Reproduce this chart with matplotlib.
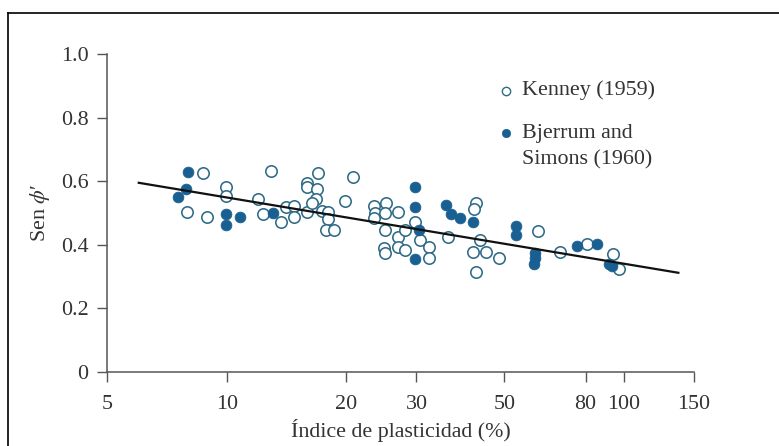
import numpy as np
import matplotlib
matplotlib.use("Agg")
from matplotlib import pyplot as plt
from matplotlib.lines import Line2D

# Kenney (1959) - open circles
kenney_pi = [8.69, 7.95, 8.91, 9.93, 9.93, 11.95, 12.35, 12.9, 13.7, 14.1, 14.8, 14.8,
             15.9, 15.9, 15.9, 17.0, 16.9, 16.8, 16.4, 17.4, 18.0, 18.0, 17.8, 18.6,
             19.8, 20.8,
             23.5, 25.1, 23.6, 25.0, 23.4, 25.0, 24.9, 25.0, 26.9, 26.9, 27.0, 28.1,
             28.1, 29.7, 30.6, 32.3, 32.3, 36.1, 42.5, 41.9, 43.4, 41.7, 44.9, 48.5,
             42.5, 60.6, 69.0, 80.5, 93.6, 97.2]
kenney_sin = [0.625, 0.504, 0.488, 0.581, 0.553, 0.544, 0.498, 0.633, 0.471, 0.520, 0.522, 0.488,
              0.504, 0.595, 0.583, 0.625, 0.575, 0.543, 0.530, 0.506, 0.504, 0.481, 0.447, 0.447,
              0.538, 0.612,
              0.523, 0.530, 0.499, 0.499, 0.483, 0.447, 0.389, 0.375, 0.504, 0.423, 0.394, 0.447,
              0.384, 0.473, 0.415, 0.394, 0.358, 0.424, 0.531, 0.512, 0.415, 0.378, 0.378, 0.358,
              0.315, 0.442, 0.376, 0.402, 0.370, 0.323]

# Bjerrum and Simons (1960) - filled circles
bjerrum_pi = [8.0, 7.9, 7.55, 9.93, 9.97, 10.8, 13.1, 29.8, 29.8, 30.4, 29.7, 35.6,
              36.6, 38.6, 41.6, 53.6, 53.6, 59.6, 59.6, 59.3, 76.0, 85.6, 91.5, 93.0]
bjerrum_sin = [0.629, 0.575, 0.550, 0.498, 0.462, 0.486, 0.499, 0.583, 0.520, 0.447, 0.355, 0.526,
               0.496, 0.484, 0.472, 0.459, 0.430, 0.373, 0.358, 0.340, 0.395, 0.403, 0.340, 0.332]

# trend line end points
trend_pi = [6.0, 137.0]
trend_sin = [0.595, 0.312]

x_ticks = [5, 10, 20, 30, 50, 80, 100, 150]
y_ticks = [0, 0.2, 0.4, 0.6, 0.8, 1.0]
y_ticklabels = ['0', '0.2', '0.4', '0.6', '0.8', '1.0']

blue_fill = '#1a5f92'
blue_edge = '#2f6b86'
axis_col = '#555555'
txt_col = '#333333'

plt.rcParams['font.family'] = ['Liberation Serif', 'DejaVu Serif']
plt.rcParams['mathtext.fontset'] = 'stix'
fs = 15.8

fig = plt.figure(figsize=(7.79, 4.46), dpi=100)
ax = fig.add_axes([107.3 / 779, 1 - 372 / 446, (694 - 107.3) / 779, (372 - 54) / 446])

ax.plot(kenney_pi, kenney_sin, 'o', ms=8.2, mfc='white', mec=blue_edge, mew=1.15, zorder=3)
ax.plot(bjerrum_pi, bjerrum_sin, 'o', ms=7.8, mfc=blue_fill, mec=blue_fill, mew=0.5, zorder=4)
ax.plot(trend_pi, trend_sin, '-', color='#111111', lw=1.6, zorder=5)

ax.set_xscale('log')
ax.set_xlim(5, 150)
ax.set_ylim(0, 1.0)
ax.set_xticks(x_ticks)
ax.set_xticklabels([str(t) for t in x_ticks])
ax.xaxis.set_minor_locator(matplotlib.ticker.NullLocator())
ax.set_yticks(y_ticks)
ax.set_yticklabels(y_ticklabels)

for s in ['top', 'right']:
    ax.spines[s].set_visible(False)
for s in ['left', 'bottom']:
    ax.spines[s].set_color(axis_col)
    ax.spines[s].set_linewidth(1.1)
ax.tick_params(direction='out', length=7.5, width=1.0, color=axis_col,
               labelsize=fs, labelcolor=txt_col)
ax.tick_params(axis='x', pad=9)
ax.tick_params(axis='y', pad=6)

ax.set_xlabel('Índice de plasticidad (%)', fontsize=fs, color=txt_col, labelpad=4)
ax.set_ylabel("Sen $\\phi$\u2032", fontsize=fs, color=txt_col, labelpad=6)

# legend drawn by hand so the marker sits on the first line
lx = (506 - 107.3) / (694 - 107.3)
tx = (521.7 - 107.3) / (694 - 107.3)
ax.plot([lx], [0.885], 'o', ms=6, mfc='white', mec=blue_edge, mew=1.0,
        transform=ax.transAxes, clip_on=False)
ax.text(tx, 0.885, 'Kenney (1959)', fontsize=fs, color=txt_col,
        va='center', ha='left', transform=ax.transAxes)
ax.plot([lx], [0.751], 'o', ms=6, mfc=blue_fill, mec=blue_fill, mew=0.5,
        transform=ax.transAxes, clip_on=False)
ax.text(tx, 0.751, 'Bjerrum and', fontsize=fs, color=txt_col,
        va='center', ha='left', transform=ax.transAxes)
ax.text(tx, 0.667, 'Simons (1960)', fontsize=fs, color=txt_col,
        va='center', ha='left', transform=ax.transAxes)

# outer frame (left and top edges only visible)
fig.add_artist(Line2D([8 / 779, 8 / 779], [0, 1 - 13 / 446], color='black', lw=1.2))
fig.add_artist(Line2D([8 / 779, 1], [1 - 13 / 446, 1 - 13 / 446], color='black', lw=1.2))

fig.savefig('out.png', dpi=100)
